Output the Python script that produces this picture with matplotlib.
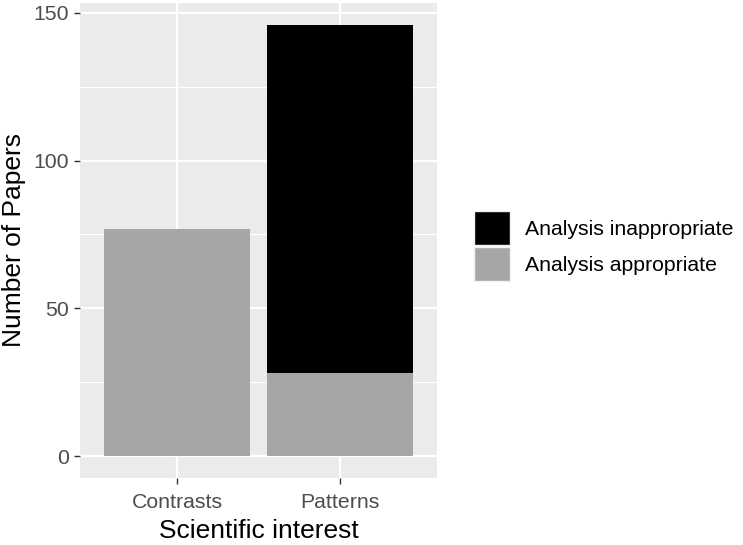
import matplotlib.pyplot as plt
from matplotlib.patches import Patch

# data
categories = ['Contrasts', 'Patterns']
appropriate = [77, 28]
inappropriate = [0, 118]
y_ticks = [0, 50, 100, 150]
y_minor = [25, 75, 125]

col_ok = '#A6A6A6'
col_bad = '#000000'
panel_bg = '#EBEBEB'

plt.rcParams['font.family'] = ['Liberation Sans', 'DejaVu Sans']

fig = plt.figure(figsize=(7.43, 5.45), dpi=100)
ax = fig.add_axes([80 / 743, 1 - 477.7 / 545, 357 / 743, 474.7 / 545])
ax.set_facecolor(panel_bg)

x = [1, 2]
ax.bar(x, appropriate, width=0.9, color=col_ok, zorder=3)
ax.bar(x, inappropriate, width=0.9, bottom=appropriate, color=col_bad, zorder=3)

total_max = max(a + b for a, b in zip(appropriate, inappropriate))
pad = total_max * 0.05
ax.set_ylim(-pad, total_max + pad)
ax.set_xlim(0.4, 2.6)

ax.set_xticks(x)
ax.set_xticklabels(categories)
ax.set_yticks(y_ticks)
ax.set_yticks(y_minor, minor=True)

ax.grid(which='major', color='white', linewidth=1.6, zorder=0)
ax.grid(which='minor', axis='y', color='white', linewidth=0.8, zorder=0)
ax.set_axisbelow(True)
for s in ax.spines.values():
    s.set_visible(False)

ax.tick_params(axis='both', which='major', length=4, width=1, color='#333333',
               labelsize=15.3, labelcolor='#4D4D4D', pad=4)
ax.tick_params(axis='x', which='major', pad=7)
ax.tick_params(axis='both', which='minor', length=0)

ax.set_xlabel('Scientific interest', fontsize=19, color='black', labelpad=5)
ax.set_ylabel('Number of Papers', fontsize=19, color='black', labelpad=5)

handles = [Patch(facecolor=col_bad, edgecolor='#F2F2F2', linewidth=1.0),
           Patch(facecolor=col_ok, edgecolor='#F2F2F2', linewidth=1.0)]
leg = fig.legend(handles, ['Analysis inappropriate', 'Analysis appropriate'],
                 loc='center left', bbox_to_anchor=(474 / 743, 1 - 246 / 545),
                 frameon=False, fontsize=15.3, handlelength=1.7, handleheight=2.1,
                 handletextpad=0.7, labelspacing=0.1, borderaxespad=0,
                 borderpad=0)

fig.savefig('out.png', dpi=100)
